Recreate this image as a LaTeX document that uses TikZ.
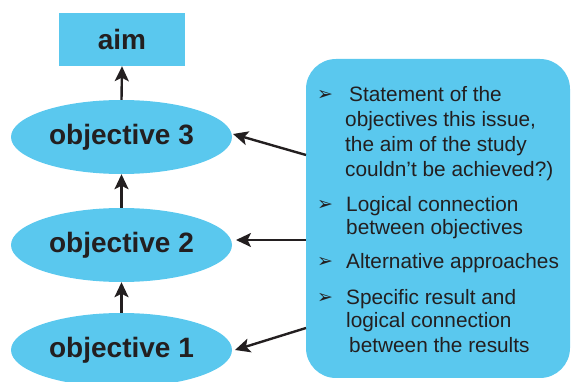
\documentclass[tikz,border=0pt]{standalone}
\usepackage{fontspec}
\setmainfont{Liberation Sans}
\newfontfamily\bulletfont{DejaVu Sans}
\usetikzlibrary{shapes.geometric,arrows.meta}
\definecolor{boxblue}{RGB}{90,200,238}
\definecolor{ink}{RGB}{35,31,32}
\tikzset{
  bluebox/.style={fill=boxblue,draw=none,inner sep=0pt},
  objell/.style={bluebox,ellipse,minimum width=221pt,minimum height=74pt,font=\fontsize{28}{32}\selectfont\bfseries,text=ink},
  arr/.style={draw=ink,line width=2.4pt,-{Stealth[length=15pt,width=14pt,inset=3.5pt]}},
  txt/.style={anchor=base west,inner sep=0pt,font=\fontsize{20.8}{24.5}\selectfont,text=ink},
  bul/.style={anchor=base west,inner sep=0pt,font=\bulletfont\fontsize{19}{22}\selectfont,text=ink}
}
\begin{document}
\begin{tikzpicture}[x=1pt,y=-1pt]
\useasboundingbox (0,0) rectangle (571,382);
% left column
\node[bluebox,minimum width=126pt,minimum height=53pt,font=\fontsize{28}{32}\selectfont\bfseries,text=ink] (aim) at (122,39.5) {aim};
\node[objell] (o3) at (121.5,137) {objective 3};
\node[objell] (o2) at (121.5,245) {objective 2};
\node[objell] (o1) at (121.5,350) {objective 1};
\draw[arr] (o3.north) -- (aim.south);
\draw[arr] (o2.north) -- (o3.south);
\draw[arr] (o1.north) -- (o2.south);
% right box
\node[bluebox,rounded corners=30pt,minimum width=264pt,minimum height=319pt] (box) at (438,218.5) {};
\coordinate (c1) at (306,155);
\coordinate (c2) at (306,240);
\coordinate (c3) at (306,328);
\coordinate (t1) at (233,134);
\coordinate (t2) at (236,240);
\coordinate (t3) at (235,350);
\draw[arr] (c1) -- (t1);
\draw[arr] (c2) -- (t2);
\draw[arr] (c3) -- (t3);
% bullets
\node[bul] (b1) at (317,101) {➢};
\node[bul] (b2) at (317,211) {➢};
\node[bul] (b3) at (317,268) {➢};
\node[bul] (b4) at (317,304) {➢};
% texts
\node[txt] (l1) at (349,102) {Statement of the};
\node[txt] (l2) at (345,127) {objectives this issue,};
\node[txt] (l3) at (345,152) {the aim of the study};
\node[txt] (l4) at (345,177) {couldn’t be achieved?)};
\node[txt] (l5) at (346,212) {Logical connection};
\node[txt] (l6) at (346,235) {between objectives};
\node[txt] (l7) at (346,269) {Alternative approaches};
\node[txt] (l8) at (346,305) {Specific result and};
\node[txt] (l9) at (346,328) {logical connection};
\node[txt] (l10) at (349,353) {between the results};
\end{tikzpicture}
\end{document}
